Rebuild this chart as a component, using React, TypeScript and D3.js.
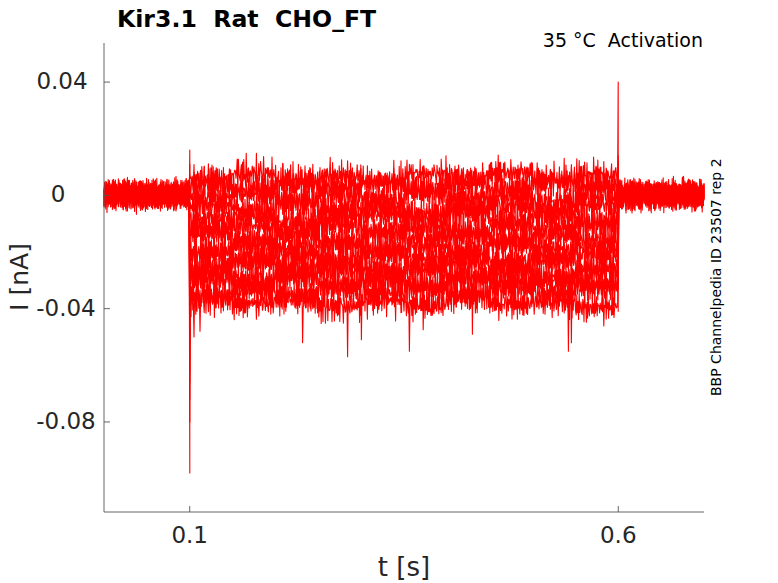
import React, { useEffect, useRef } from 'react';
import * as d3 from 'd3';

// step levels during the 0.1-0.6 s pulse, one per sweep (nA)
const stepLevels = [0.006, 0.003, -0.001, -0.005, -0.008, -0.012, -0.015, -0.019, -0.022, -0.025, -0.028, -0.031, -0.034, -0.038];
// capacitive transient right after pulse onset
const onsetPeaks = [0.016, 0.011, -0.015, -0.025, -0.035, -0.042, -0.048, -0.052, -0.058, -0.062, -0.066, -0.072, -0.080, -0.098];
// transient right after pulse offset
const offsetPeaks = [0.040, 0.014, 0.012, 0.009, 0.007, 0.005, 0.003, 0.001, -0.002, -0.004, -0.005, -0.006, -0.008, -0.010];
// a few deep excursions of the lowest sweeps: [sweep, t (s), I (nA)]
const dips: [number, number, number][] = [
  [13, 0.105, -0.050], [12, 0.112, -0.048], [13, 0.232, -0.052], [13, 0.284, -0.057], [12, 0.3, -0.051],
  [13, 0.356, -0.055], [11, 0.43, -0.049], [13, 0.542, -0.055], [12, 0.545, -0.052],
];

// hand-read noise shape (unitless), three lengths so the pattern doesn't repeat visibly
const jitterA = [0.2, -0.6, 0.9, -0.3, 0.5, -0.9, 0.1, 0.7, -0.4, 0.3, -0.8, 0.6, -0.1, 0.4, -0.7, 0.95, -0.2, 0.1,
  -0.5, 0.8, -0.9, 0.3, 0.0, -0.6, 0.7, -0.2, 0.5, -0.85, 0.35, -0.1, 0.6, -0.4, 0.9, -0.7, 0.2, -0.3, 0.45];
const jitterB = [-0.3, 0.5, 0.1, -0.8, 0.6, -0.2, 0.9, -0.5, 0.3, -0.1, 0.7, -0.9, 0.4, 0.0, -0.6, 0.8, -0.3, 0.2,
  -0.7, 0.5, -0.4, 0.9, -0.1, 0.3, -0.8, 0.6, 0.1, -0.5, 0.7, -0.2, 0.4, -0.9, 0.2, 0.6, -0.3, 0.8, -0.6, 0.0,
  0.5, -0.4, 0.3, -0.7, 0.9, -0.2, 0.1, -0.5, 0.6, -0.8, 0.4, -0.1, 0.7, -0.3, 0.2];
const jitterC = [0.6, 0.1, -0.4, -0.9, 0.3, 0.8, -0.2, -0.6, 0.5, 0.0, -0.8, 0.9, 0.2, -0.3, -0.7, 0.4, 0.7, -0.5,
  -0.1, 0.9, -0.9, 0.3, 0.5, -0.4, -0.6, 0.8, 0.1, -0.2, 0.6];
// slow drift per 50 ms block (unitless), gives the sweeps their wandering look
const drift = [0.0, 0.4, -0.3, 0.6, -0.5, 0.2, -0.8, 0.5, -0.1, 0.7, -0.6, 0.3, -0.4, 0.9, -0.2, 0.1, -0.7];

const xTicks = [0.1, 0.6];
const yTicks = [0.04, 0, -0.04, -0.08];
const tStart = 0.1;
const tEnd = 0.6;
const dt = 0.0007;

const App: React.FC = () => {
  const svgRef = useRef<SVGSVGElement>(null);

  useEffect(() => {
    if (!svgRef.current) return;
    const svg = d3.select(svgRef.current);
    svg.selectAll('*').remove();

    const left = 104, right = 704, top = 43, bottom = 512;
    const x = d3.scaleLinear().domain([0, 0.7]).range([left, right]);
    const y = d3.scaleLinear().domain([-0.1118, 0.0538]).range([bottom, top]);

    const line = d3.line<[number, number]>()
      .x(d => x(d[0]))
      .y(d => y(d[1]));

    const g = svg.append('g');
    stepLevels.forEach((lvl, j) => {
      const pts: [number, number][] = [];
      const myDips = dips.filter(d => d[0] === j);
      const n = Math.round(0.7 / dt);
      for (let k = 0; k <= n; k++) {
        const t = k * dt;
        const a = jitterA[(k + j * 5) % jitterA.length];
        const b = jitterB[(k + j * 17) % jitterB.length];
        const c = jitterC[(k + j * 3) % jitterC.length];
        const inStep = t >= tStart && t < tEnd;
        const amp = inStep ? 0.0078 : 0.0062;
        const d = drift[(Math.floor(t / 0.05) + j * 3) % drift.length];
        let v = (inStep ? lvl + 0.0025 * d : 0) + amp * (0.45 * a + 0.4 * b + 0.35 * c);
        if (Math.abs(t - tStart) < dt / 2 + 1e-9) pts.push([t, onsetPeaks[j]]);
        if (Math.abs(t - tEnd) < dt / 2 + 1e-9) pts.push([t, offsetPeaks[j]]);
        const dip = myDips.find(dd => Math.abs(dd[1] - t) < dt / 2 + 1e-9);
        if (dip) v = dip[2];
        pts.push([t, v]);
      }
      g.append('path')
        .attr('d', line(pts) || '')
        .attr('fill', 'none')
        .attr('stroke', '#ff0000')
        .attr('stroke-width', 1.1)
        .attr('stroke-linejoin', 'round');
    });

    const axisColor = '#262626';
    const font = "'DejaVu Sans', sans-serif";

    svg.append('line').attr('x1', left).attr('x2', left).attr('y1', top).attr('y2', bottom)
      .attr('stroke', '#555').attr('stroke-width', 0.9);
    svg.append('line').attr('x1', left).attr('x2', right).attr('y1', bottom).attr('y2', bottom)
      .attr('stroke', '#555').attr('stroke-width', 0.9);

    yTicks.forEach(v => {
      svg.append('line').attr('x1', left).attr('x2', left + 6).attr('y1', y(v)).attr('y2', y(v))
        .attr('stroke', '#555').attr('stroke-width', 0.9);
      svg.append('text').attr('x', 62 + (v < 0 ? 4 : v === 0 ? -4 : 0)).attr('y', y(v)).attr('dy', '0.3em')
        .attr('text-anchor', 'middle').attr('font-family', font).attr('font-size', 23)
        .attr('fill', axisColor).text(v === 0 ? '0' : String(v));
    });
    xTicks.forEach(v => {
      svg.append('line').attr('x1', x(v)).attr('x2', x(v)).attr('y1', bottom).attr('y2', bottom - 6)
        .attr('stroke', '#555').attr('stroke-width', 0.9);
      svg.append('text').attr('x', x(v)).attr('y', bottom + 31)
        .attr('text-anchor', 'middle').attr('font-family', font).attr('font-size', 23)
        .attr('fill', axisColor).text(String(v));
    });

    svg.append('text').attr('x', 404).attr('y', 576).attr('text-anchor', 'middle')
      .attr('font-family', font).attr('font-size', 26).attr('fill', axisColor).text('t [s]');
    svg.append('text').attr('transform', `translate(28,277) rotate(-90)`).attr('text-anchor', 'middle')
      .attr('font-family', font).attr('font-size', 25).attr('fill', axisColor).text('I [nA]');

    svg.append('text').attr('x', 117).attr('y', 27).attr('font-family', font).attr('font-size', 23.6)
      .attr('font-weight', 'bold').attr('fill', '#000').attr('xml:space', 'preserve')
      .text('Kir3.1  Rat  CHO_FT');
    svg.append('text').attr('x', 703).attr('y', 47).attr('text-anchor', 'end').attr('font-family', font)
      .attr('font-size', 19).attr('fill', '#000').attr('xml:space', 'preserve').text('35 °C  Activation');
    svg.append('text').attr('transform', `translate(721,396) rotate(-90)`).attr('font-family', font)
      .attr('font-size', 14).attr('fill', '#000').text('BBP Channelpedia ID 23507 rep 2');
  }, []);

  return (
    <svg ref={svgRef} width={778} height={583}
      style={{ position: 'absolute', left: 0, top: 0, background: '#fff' }} />
  );
};

export default App;
